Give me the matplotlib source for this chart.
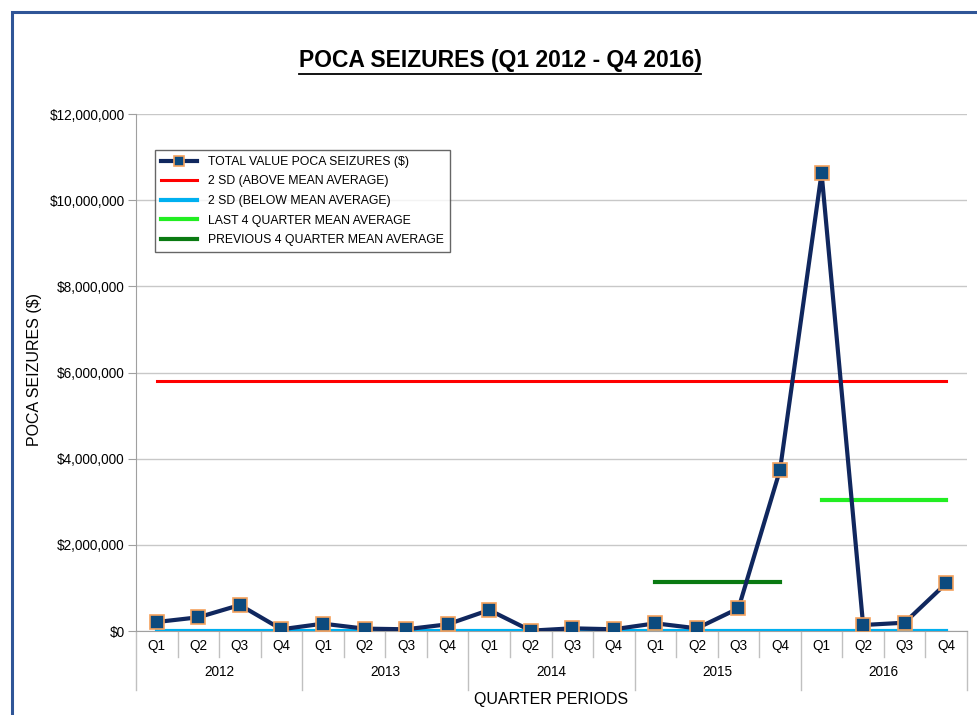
import numpy as np
import matplotlib.pyplot as plt
from matplotlib.patches import Rectangle
from matplotlib.lines import Line2D
import matplotlib.transforms as mtransforms

plt.rcParams['font.family'] = ['Liberation Sans', 'DejaVu Sans']

# data
years = ['2012', '2013', '2014', '2015', '2016']
quarters = ['Q1', 'Q2', 'Q3', 'Q4']
seizures = [209000, 318000, 603000, 40000,
            170000, 55000, 40000, 155000,
            487000, 8000, 62000, 40000,
            178000, 62000, 526000, 3740000,
            10630000, 139000, 193000, 1107000]
sd_above = 5800000
sd_below = 0
last4_mean = 3040000
prev4_mean = 1137000

n = len(seizures)
x = np.arange(n)

fig = plt.figure(figsize=(9.77, 7.15), dpi=100)
ax = fig.add_axes([136/977, 1-631/715, (967-136)/977, (631-114)/715])

# outer blue frame (cropped on right / bottom)
fig.patches.append(Rectangle((12/977, -0.05), 1.0, 1-12/715+0.05, transform=fig.transFigure,
                             fill=False, edgecolor='#2f5597', linewidth=2.2))

ax.plot(x, seizures, color='#10275e', lw=3, marker='s', ms=10,
        mfc='#0c4a7e', mec='#f5a25d', mew=1.2, label='TOTAL VALUE POCA SEIZURES ($)', zorder=5)
ax.plot([0, n-1], [sd_above]*2, color='#ff0000', lw=2.2, label='2 SD (ABOVE MEAN AVERAGE)', zorder=3)
ax.plot([0, n-1], [sd_below]*2, color='#00b0f0', lw=3, label='2 SD (BELOW MEAN AVERAGE)', zorder=3)
ax.plot([16, 19], [last4_mean]*2, color='#22ee22', lw=3, label='LAST 4 QUARTER MEAN AVERAGE', zorder=3)
ax.plot([12, 15], [prev4_mean]*2, color='#0a7a12', lw=3, label='PREVIOUS 4 QUARTER MEAN AVERAGE', zorder=3)

ax.set_xlim(-0.5, n-0.5)
ax.set_ylim(0, 12000000)
ax.set_yticks(np.arange(0, 12000001, 2000000))
ax.set_yticklabels(['${:,.0f}'.format(v) for v in ax.get_yticks()], fontsize=9.8)
ax.yaxis.grid(True, color='#c8c8c8', lw=1)
ax.set_axisbelow(True)
for s in ['top', 'right']:
    ax.spines[s].set_visible(False)
ax.spines['left'].set_color('#a0a0a0')
ax.spines['bottom'].set_color('#a0a0a0')
ax.tick_params(axis='y', color='#a0a0a0', length=6, pad=2)
ax.set_xticks([])

# two-level category labels
tr = mtransforms.blended_transform_factory(ax.transData, ax.transAxes)
for i in range(n):
    ax.text(i, -0.029, quarters[i % 4], transform=tr, ha='center', va='center', fontsize=9.8)
for k in range(n + 1):
    bottom = -0.114 if k % 4 == 0 else -0.0503
    ax.add_line(Line2D([k-0.5, k-0.5], [0, bottom], transform=tr, color='#c0c0c0', lw=1, clip_on=False))
for j, yr in enumerate(years):
    ax.text(4*j + 1.5, -0.079, yr, transform=tr, ha='center', va='center', fontsize=9.8)
ax.text(0.5, -0.133, 'QUARTER PERIODS', transform=ax.transAxes, ha='center', va='center', fontsize=11.5)
fig.text(35/977, 1-370/715, 'POCA SEIZURES ($)', rotation=90, ha='center', va='center', fontsize=11.5)

leg = ax.legend(loc='upper left', bbox_to_anchor=(0.0229, 0.931), fontsize=8.8, frameon=True,
                fancybox=False, edgecolor='#404040', handlelength=2.9, borderpad=0.5,
                labelspacing=0.62, handletextpad=0.9, borderaxespad=0)
leg.get_frame().set_linewidth(1)
leg.legend_handles[0].set_markersize(6.5)

title = fig.text(500/977, 1-61/715, 'POCA SEIZURES (Q1 2012 - Q4 2016)', ha='center', va='center',
                 fontsize=16.5, fontweight='bold')
fig.canvas.draw()
bb = title.get_window_extent().transformed(fig.transFigure.inverted())
fig.add_artist(Line2D([bb.x0, bb.x1], [bb.y0 - 0.002]*2, transform=fig.transFigure, color='black', lw=1.3))

fig.savefig('out.png', dpi=100)
